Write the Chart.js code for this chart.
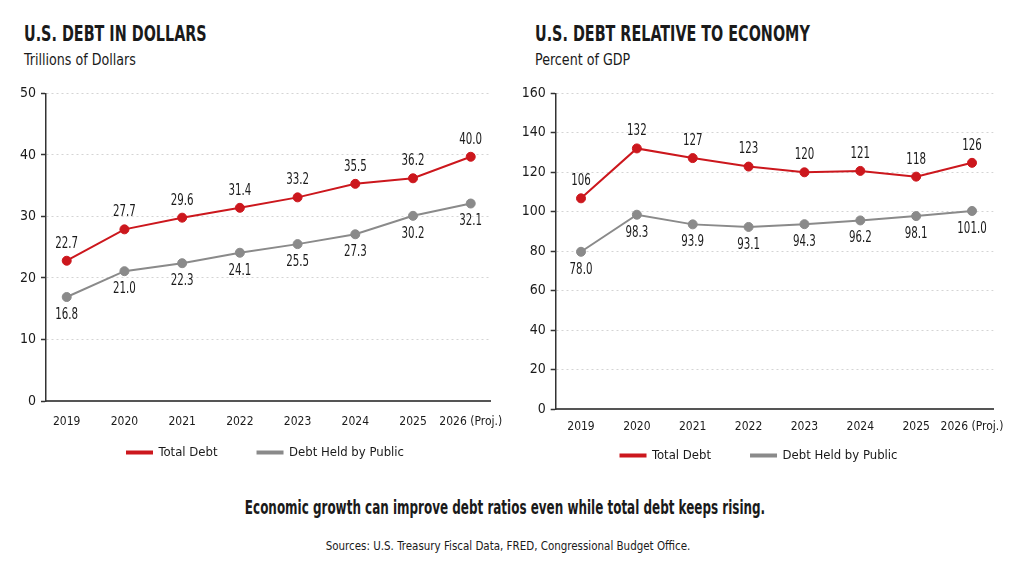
<!DOCTYPE html>
<html><head><meta charset="utf-8">
<script src="https://cdn.jsdelivr.net/npm/chart.js@4.4.1/dist/chart.umd.min.js"></script>
<style>
html,body{margin:0;padding:0;background:#fff;width:1024px;height:576px;overflow:hidden;}
body{position:relative;font-family:'DejaVu Sans Condensed','Liberation Sans',sans-serif;color:#1a1a1a;}
.t{position:absolute;white-space:nowrap;line-height:1;}
.title{font-weight:bold;font-size:21px;transform:scaleX(0.76);transform-origin:0 50%;}
.sub{font-size:15px;transform:scaleX(0.94);transform-origin:0 50%;}
.cap{font-weight:bold;font-size:19px;transform:translateX(-50%) scaleX(0.7);}
.src{font-size:12.5px;transform:translateX(-50%) scaleX(0.917);}
canvas{position:absolute;}
</style></head><body>
<div class="t title" style="left:24px;top:24px">U.S. DEBT IN DOLLARS</div>
<div class="t sub" style="left:24px;top:53px">Trillions of Dollars</div>
<div class="t title" style="left:535px;top:24px">U.S. DEBT RELATIVE TO ECONOMY</div>
<div class="t sub" style="left:535px;top:53px">Percent of GDP</div>
<canvas id="c1" width="512" height="390" style="left:0;top:80px;width:512px;height:390px"></canvas>
<canvas id="c2" width="512" height="392" style="left:512px;top:80px;width:512px;height:392px"></canvas>
<div class="t cap" style="left:505px;top:498px">Economic growth can improve debt ratios even while total debt keeps rising.</div>
<div class="t src" style="left:508px;top:540px">Sources: U.S. Treasury Fiscal Data, FRED, Congressional Budget Office.</div>
<script>
const years = ['2019','2020','2021','2022','2023','2024','2025','2026 (Proj.)'];
const seriesNames = ['Total Debt','Debt Held by Public'];

// Chart 1: trillions of dollars
const dollarsTotal = [22.8, 27.9, 29.8, 31.4, 33.1, 35.3, 36.2, 39.7];
const dollarsPublic = [16.9, 21.1, 22.4, 24.1, 25.5, 27.1, 30.1, 32.1];
const dollarsTotalLabels = ['22.7','27.7','29.6','31.4','33.2','35.5','36.2','40.0'];
const dollarsPublicLabels = ['16.8','21.0','22.3','24.1','25.5','27.3','30.2','32.1'];
const dollarsTicks = [0, 10, 20, 30, 40, 50];

// Chart 2: percent of GDP
const gdpTotal = [106.8, 132.1, 127.2, 122.9, 120.0, 120.7, 117.8, 124.8];
const gdpPublic = [79.7, 98.5, 93.6, 92.3, 93.7, 95.6, 97.8, 100.4];
const gdpTotalLabels = ['106','132','127','123','120','121','118','126'];
const gdpPublicLabels = ['78.0','98.3','93.9','93.1','94.3','96.2','98.1','101.0'];
const gdpTicks = [0, 20, 40, 60, 80, 100, 120, 140, 160];

const RED = '#cc171d';
const GRAY = '#8a8a8a';
const INK = '#1a1a1a';
const FAMILY = "'DejaVu Sans Condensed','Liberation Sans',sans-serif";
Chart.defaults.font.family = FAMILY;
Chart.defaults.color = INK;

const valueLabels = {
  id: 'valueLabels',
  afterDatasetsDraw(chart, args, opts) {
    const ctx = chart.ctx;
    chart.data.datasets.forEach((ds, di) => {
      const meta = chart.getDatasetMeta(di);
      const texts = opts.labels[di];
      const off = opts.offsets[di];
      meta.data.forEach((pt, i) => {
        ctx.save();
        ctx.font = '15px ' + FAMILY;
        ctx.fillStyle = INK;
        ctx.textAlign = 'center';
        ctx.textBaseline = 'middle';
        ctx.translate(pt.x, pt.y + off);
        ctx.scale(0.76, 1);
        ctx.fillText(texts[i], 0, 0);
        ctx.restore();
      });
    });
  }
};

function ds(name, vals, color) {
  return {
    label: name,
    data: vals.map((v, i) => ({x: i, y: v})),
    borderColor: color,
    backgroundColor: color,
    borderWidth: 2,
    pointRadius: 4.5,
    pointBorderWidth: 1,
    pointBackgroundColor: color,
    pointBorderColor: color,
    tension: 0
  };
}

function noClip(s) { s._computeLabelArea = () => undefined; }

function makeChart(id, cfg) {
  return new Chart(document.getElementById(id), {
    type: 'line',
    data: {
      datasets: [ds(seriesNames[0], cfg.total, RED), ds(seriesNames[1], cfg.pub, GRAY)]
    },
    plugins: [valueLabels],
    options: {
      responsive: false,
      animation: false,
      events: [],
      layout: {padding: cfg.padding},
      scales: {
        x: {
          type: 'linear',
          min: cfg.xmin, max: cfg.xmax,
          afterBuildTicks: (s) => { s.ticks = years.map((_, i) => ({value: i})); },
          afterFit: (s) => { s.height = cfg.xHeight; noClip(s); },
          grid: {display: false},
          border: {display: true, color: '#555', width: 2},
          ticks: {
            padding: cfg.xPad,
            autoSkip: false,
            maxRotation: 0,
            font: {size: 12},
            color: INK,
            callback: (v) => years[v] !== undefined ? years[v] : ''
          }
        },
        y: {
          min: cfg.ticks[0], max: cfg.ticks[cfg.ticks.length - 1],
          afterBuildTicks: (s) => { s.ticks = cfg.ticks.map(v => ({value: v})); },
          afterFit: (s) => { s.width = cfg.yWidth; noClip(s); },
          grid: {
            color: '#d4d4d4', lineWidth: 1,
            drawTicks: true, tickLength: 5, tickColor: '#333', tickWidth: 1.5,
            tickBorderDash: []
          },
          border: {display: true, color: '#333', width: 1.5, dash: [2, 3]},
          ticks: {padding: 5, font: {size: 14}, color: INK}
        }
      },
      plugins: {
        tooltip: {enabled: false},
        legend: {
          position: 'bottom',
          labels: {
            boxWidth: 25, boxHeight: 2, padding: 40,
            font: {size: 13}, color: INK
          }
        },
        valueLabels: {labels: cfg.labels, offsets: [-17, 18]}
      }
    }
  });
}

makeChart('c1', {
  total: dollarsTotal, pub: dollarsPublic,
  labels: [dollarsTotalLabels, dollarsPublicLabels],
  ticks: dollarsTicks,
  padding: {left: 41, right: 22, top: 12.7, bottom: 1},
  yWidth: 5, xHeight: 5, xPad: 6,
  xmin: -0.359, xmax: 7.334
});
makeChart('c2', {
  total: gdpTotal, pub: gdpPublic,
  labels: [gdpTotalLabels, gdpPublicLabels],
  ticks: gdpTicks,
  padding: {left: 12.7, right: 30.7, top: 12.7, bottom: 0},
  yWidth: 31, xHeight: 0, xPad: 3,
  xmin: -0.453, xmax: 7.381
});
</script>
</body></html>
